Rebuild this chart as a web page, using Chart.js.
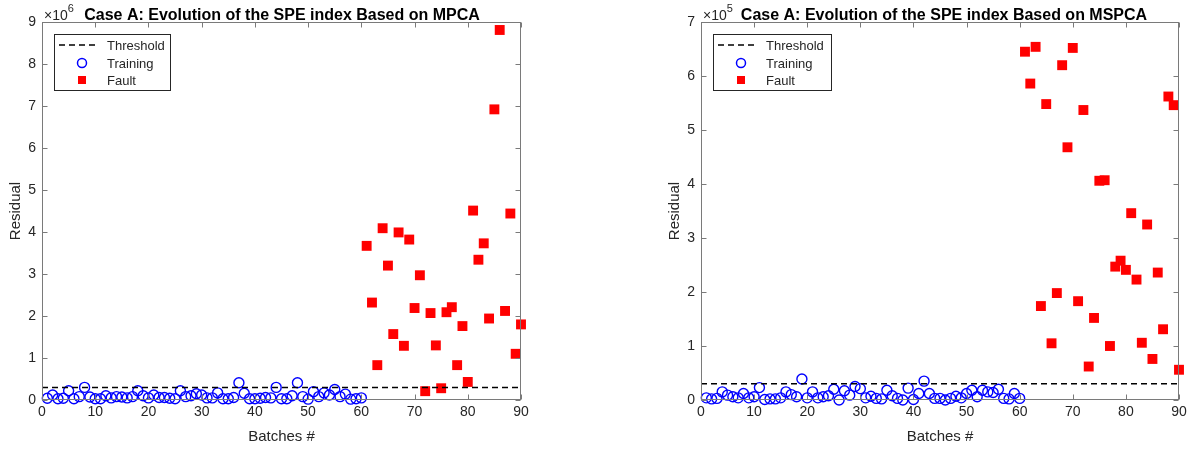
<!DOCTYPE html>
<html lang="en">
<head>
<meta charset="UTF-8">
<title>Case A: Evolution of the SPE index</title>
<script src="https://cdn.jsdelivr.net/npm/chart.js"></script>
<style>
  body { margin: 0; background: #fff; }
  .panel { position: absolute; top: 0; width: 596px; height: 449px; }
</style>
</head>
<body>
<div class="panel" style="left:0"><canvas id="mpca" width="596" height="449"></canvas></div>
<div class="panel" style="left:596px"><canvas id="mspca" width="596" height="449"></canvas></div>
<script>
// batch numbers on the x axis
const batchTicks = [0, 10, 20, 30, 40, 50, 60, 70, 80, 90];

// MPCA, residual in units of 1e6
const mpcaTicks = [0, 1, 2, 3, 4, 5, 6, 7, 8, 9];
const mpcaThreshold = 0.3;
const mpcaTraining = [0.04, 0.12, 0.03, 0.04, 0.22, 0.03, 0.08, 0.3, 0.07, 0.03,
                      0.03, 0.1, 0.05, 0.08, 0.07, 0.05, 0.08, 0.22, 0.1, 0.05,
                      0.12, 0.06, 0.06, 0.04, 0.03, 0.22, 0.08, 0.1, 0.15, 0.12,
                      0.05, 0.05, 0.17, 0.03, 0.03, 0.06, 0.41, 0.16, 0.03, 0.03,
                      0.04, 0.06, 0.05, 0.3, 0.03, 0.03, 0.1, 0.41, 0.08, 0.02,
                      0.2, 0.08, 0.17, 0.12, 0.25, 0.08, 0.14, 0.02, 0.03, 0.05];
const mpcaFault = [3.67, 2.32, 0.83, 4.09, 3.2, 1.57, 3.99, 1.29, 3.82, 2.19,
                   2.97, 0.21, 2.07, 1.3, 0.28, 2.09, 2.21, 0.83, 1.76, 0.43,
                   4.51, 3.34, 3.73, 1.94, 6.92, 8.81, 2.12, 4.44, 1.1, 1.8];

// MSPCA, residual in units of 1e5
const mspcaTicks = [0, 1, 2, 3, 4, 5, 6, 7];
const mspcaThreshold = 0.3;
const mspcaTraining = [0.04, 0.02, 0.03, 0.15, 0.09, 0.06, 0.04, 0.12, 0.04, 0.06,
                       0.23, 0.01, 0.02, 0.02, 0.04, 0.15, 0.1, 0.06, 0.39, 0.04,
                       0.15, 0.04, 0.06, 0.08, 0.2, 0.0, 0.17, 0.09, 0.25, 0.21,
                       0.04, 0.07, 0.03, 0.02, 0.18, 0.08, 0.03, 0.0, 0.22, 0.01,
                       0.12, 0.35, 0.12, 0.03, 0.03, 0.0, 0.03, 0.07, 0.04, 0.12,
                       0.18, 0.06, 0.18, 0.15, 0.14, 0.2, 0.03, 0.02, 0.12, 0.03];
const mspcaFault = [6.45, 5.86, 6.54, 1.74, 5.48, 1.05, 1.98, 6.2, 4.68, 6.52,
                    1.83, 5.37, 0.62, 1.52, 4.06, 4.07, 1.0, 2.47, 2.58, 2.41,
                    3.46, 2.23, 1.06, 3.25, 0.76, 2.36, 1.31, 5.62, 5.46, 0.56];

const FONT = "'Liberation Sans', Arial, Helvetica, sans-serif";
const TEXT = '#262626';

// MATLAB-like box, inward ticks, exponent, title and legend
const matlabFrame = {
  id: 'matlabFrame',
  afterDraw(chart, args, opts) {
    const { ctx, chartArea: a, scales: { x, y } } = chart;
    const L = Math.round(a.left) + 0.5, R = Math.round(a.right) - 0.5;
    const T = Math.round(a.top) + 0.5, B = Math.round(a.bottom) - 0.5;
    ctx.save();
    ctx.strokeStyle = '#7a7a7a';
    ctx.lineWidth = 1;
    ctx.strokeRect(L, T, R - L, B - T);
    ctx.beginPath();
    x.ticks.forEach(t => {
      const px = Math.round(x.getPixelForValue(t.value)) + 0.5;
      ctx.moveTo(px, B); ctx.lineTo(px, B - 5);
      ctx.moveTo(px, T); ctx.lineTo(px, T + 5);
    });
    y.ticks.forEach(t => {
      const py = Math.round(y.getPixelForValue(t.value)) + 0.5;
      ctx.moveTo(L, py); ctx.lineTo(L + 5, py);
      ctx.moveTo(R, py); ctx.lineTo(R - 5, py);
    });
    ctx.stroke();

    // exponent
    ctx.fillStyle = TEXT;
    ctx.textAlign = 'left';
    ctx.textBaseline = 'alphabetic';
    ctx.font = '14px ' + FONT;
    ctx.fillText('\u00d710', a.left + 2, 20);
    const w = ctx.measureText('\u00d710').width;
    ctx.font = '11px ' + FONT;
    ctx.fillText(opts.exponent, a.left + 2 + w, 12);

    // title
    ctx.fillStyle = '#000';
    ctx.font = 'bold 16px ' + FONT;
    ctx.textAlign = 'center';
    ctx.fillText(opts.title, opts.titleX, 20);

    // legend
    const lx = a.left + 12, ly = a.top + 12, lw = opts.legendW, lh = 56;
    ctx.fillStyle = '#fff';
    ctx.fillRect(lx, ly, lw, lh);
    ctx.strokeStyle = '#262626';
    ctx.strokeRect(lx + 0.5, ly + 0.5, lw, lh);
    const rows = [ly + 11, ly + 29, ly + 46];
    ctx.strokeStyle = '#000';
    ctx.lineWidth = 1.5;
    ctx.setLineDash([6, 4]);
    ctx.beginPath();
    ctx.moveTo(lx + 5, rows[0]); ctx.lineTo(lx + 45, rows[0]);
    ctx.stroke();
    ctx.setLineDash([]);
    ctx.strokeStyle = '#0000ff';
    ctx.beginPath();
    ctx.arc(lx + 28, rows[1], 4.5, 0, Math.PI * 2);
    ctx.stroke();
    ctx.fillStyle = '#ff0000';
    ctx.fillRect(lx + 24, rows[2] - 4, 8, 8);
    ctx.fillStyle = TEXT;
    ctx.font = '13px ' + FONT;
    ctx.textAlign = 'left';
    ctx.textBaseline = 'middle';
    ['Threshold', 'Training', 'Fault'].forEach((s, i) => ctx.fillText(s, lx + 53, rows[i] + 1));
    ctx.restore();
  }
};

function makeChart(id, training, fault, threshold, yTicks, o) {
  const toPoints = (vals, first) => vals.map((v, i) => ({ x: first + i, y: v }));
  return new Chart(document.getElementById(id), {
    type: 'scatter',
    data: {
      datasets: [{
        type: 'line',
        label: 'Threshold',
        data: [{ x: 0, y: threshold }, { x: 90, y: threshold }],
        borderColor: '#000',
        borderWidth: 1.5,
        borderDash: [6, 4],
        pointRadius: 0
      }, {
        label: 'Training',
        data: toPoints(training, 1),
        pointStyle: 'circle',
        pointRadius: 5,
        backgroundColor: 'rgba(0,0,0,0)',
        borderColor: '#0000ff',
        borderWidth: 1.4,
        clip: false
      }, {
        label: 'Fault',
        data: toPoints(fault, training.length + 1),
        pointStyle: 'rect',
        pointRadius: 7,
        backgroundColor: '#ff0000',
        borderWidth: 0,
        clip: false
      }]
    },
    options: {
      responsive: false,
      animation: false,
      events: [],
      layout: { padding: { left: o.padLeft, right: o.padRight, top: 22, bottom: 0 } },
      plugins: {
        legend: { display: false },
        tooltip: { enabled: false },
        matlabFrame: { title: o.title, exponent: o.exponent, titleX: o.titleX, legendW: o.legendW }
      },
      scales: {
        x: {
          type: 'linear', min: 0, max: 90,
          afterBuildTicks: s => { s.ticks = batchTicks.map(v => ({ value: v })); },
          afterFit: s => { s.height = 49; },
          grid: { display: false, drawTicks: false },
          border: { display: false },
          ticks: { color: TEXT, padding: 4, maxRotation: 0, font: { family: FONT, size: 14 } },
          title: { display: true, text: 'Batches #', color: TEXT, padding: { top: 0, bottom: 3 },
                   font: { family: FONT, size: 15 } }
        },
        y: {
          type: 'linear', min: 0, max: yTicks[yTicks.length - 1],
          afterBuildTicks: s => { s.ticks = yTicks.map(v => ({ value: v })); },
          afterFit: s => { s.width = 42; },
          grid: { display: false, drawTicks: false },
          border: { display: false },
          ticks: { color: TEXT, padding: 6, font: { family: FONT, size: 14 } },
          title: { display: true, text: 'Residual', color: TEXT, padding: { top: 7, bottom: 0 },
                   font: { family: FONT, size: 15 } }
        }
      }
    },
    plugins: [matlabFrame]
  });
}

makeChart('mpca', mpcaTraining, mpcaFault, mpcaThreshold, mpcaTicks, {
  padLeft: 0, padRight: 75, exponent: '6', titleX: 282, legendW: 116,
  title: 'Case A: Evolution of the SPE index Based on MPCA'
});
makeChart('mspca', mspcaTraining, mspcaFault, mspcaThreshold, mspcaTicks, {
  padLeft: 63, padRight: 13, exponent: '5', titleX: 348, legendW: 118,
  title: 'Case A: Evolution of the SPE index Based on MSPCA'
});
</script>
</body>
</html>
